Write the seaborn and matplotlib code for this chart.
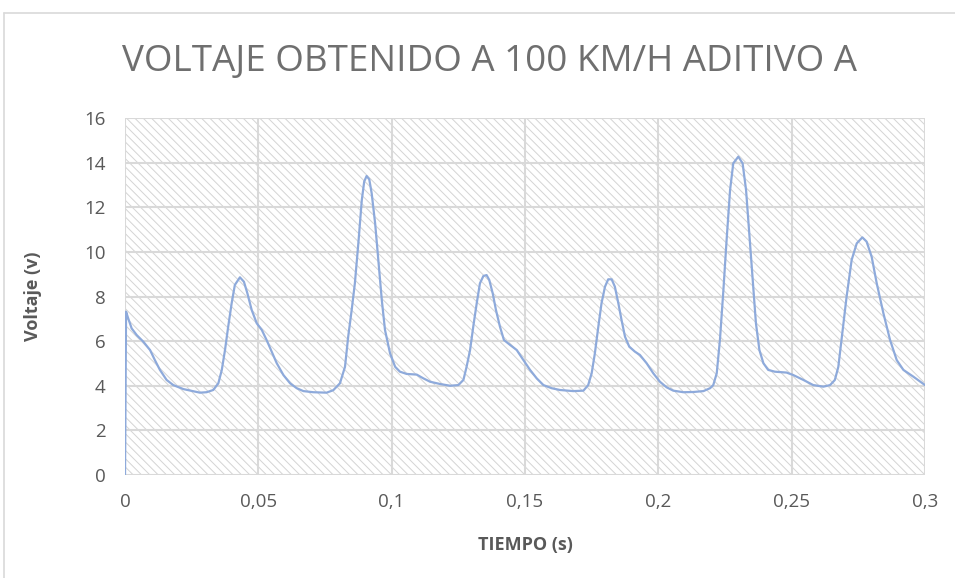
import matplotlib
matplotlib.use("Agg")
import matplotlib.pyplot as plt
import seaborn as sns
import pandas as pd
from matplotlib.patches import Rectangle
from matplotlib.ticker import FuncFormatter
from matplotlib.lines import Line2D

title = "VOLTAJE OBTENIDO A 100 KM/H ADITIVO A"
x_label = "TIEMPO (s)"
y_label = "Voltaje (v)"

tiempo = [0.0, 0.0004, 0.0012, 0.0025, 0.0044, 0.0069, 0.0094, 0.0112, 0.0131, 0.0156,
          0.0181, 0.0219, 0.0281, 0.0306, 0.0331, 0.035, 0.0363, 0.0375, 0.0387, 0.04,
          0.0412, 0.0431, 0.0446, 0.0459, 0.0475, 0.0494, 0.0513, 0.0531, 0.055, 0.0569,
          0.0594, 0.0619, 0.0644, 0.0669, 0.0706, 0.0756, 0.0781, 0.0806, 0.0825, 0.0837,
          0.085, 0.0862, 0.0875, 0.0888, 0.0897, 0.0906, 0.0916, 0.0925, 0.0938, 0.095,
          0.0963, 0.0975, 0.0994, 0.1013, 0.1031, 0.1056, 0.1094, 0.1119, 0.1144, 0.1181,
          0.1219, 0.125, 0.1269, 0.1281, 0.1294, 0.1306, 0.1319, 0.1331, 0.1344, 0.1356,
          0.1366, 0.1379, 0.1391, 0.1406, 0.1421, 0.1444, 0.1469, 0.1494, 0.1519, 0.1544,
          0.1569, 0.16, 0.1631, 0.1681, 0.1719, 0.1737, 0.175, 0.1762, 0.1775, 0.1787,
          0.18, 0.1812, 0.1825, 0.1837, 0.185, 0.1862, 0.1875, 0.1891, 0.1912, 0.1931,
          0.1956, 0.1981, 0.2006, 0.2031, 0.2056, 0.2094, 0.2131, 0.2169, 0.2194, 0.2206,
          0.2219, 0.2231, 0.2244, 0.2256, 0.2269, 0.2281, 0.23, 0.2316, 0.2329, 0.2341,
          0.2354, 0.2366, 0.2379, 0.2394, 0.2412, 0.2437, 0.2481, 0.2506, 0.2544, 0.2581,
          0.2619, 0.2644, 0.2662, 0.2675, 0.2687, 0.2706, 0.2725, 0.2744, 0.2765, 0.2781,
          0.28, 0.2819, 0.2844, 0.2869, 0.2894, 0.2919, 0.2956, 0.3]
voltaje = [0.0, 7.32, 7.02, 6.57, 6.27, 5.97, 5.60, 5.15, 4.71, 4.26,
           4.03, 3.85, 3.69, 3.71, 3.81, 4.11, 4.71, 5.60, 6.65, 7.70,
           8.52, 8.86, 8.66, 8.14, 7.40, 6.80, 6.50, 6.05, 5.53, 5.01,
           4.48, 4.11, 3.89, 3.76, 3.71, 3.69, 3.80, 4.11, 4.85, 6.20,
           7.39, 8.59, 10.38, 12.32, 13.15, 13.40, 13.25, 12.63, 11.28, 9.64,
           7.84, 6.50, 5.45, 4.85, 4.63, 4.53, 4.50, 4.33, 4.18, 4.08,
           4.00, 4.03, 4.26, 4.85, 5.60, 6.65, 7.70, 8.59, 8.92, 8.96,
           8.74, 8.14, 7.40, 6.65, 6.05, 5.83, 5.60, 5.15, 4.71, 4.33,
           4.03, 3.89, 3.81, 3.76, 3.78, 4.03, 4.56, 5.45, 6.65, 7.70,
           8.44, 8.77, 8.77, 8.44, 7.70, 6.95, 6.20, 5.75, 5.53, 5.38,
           5.01, 4.56, 4.18, 3.93, 3.78, 3.71, 3.72, 3.76, 3.89, 4.03,
           4.56, 6.05, 8.29, 10.53, 12.77, 13.97, 14.27, 13.97, 12.77, 10.83,
           8.74, 6.80, 5.60, 5.01, 4.71, 4.63, 4.59, 4.48, 4.26, 4.03,
           3.96, 4.03, 4.26, 4.85, 6.05, 7.99, 9.64, 10.38, 10.65, 10.46,
           9.78, 8.59, 7.25, 6.05, 5.15, 4.71, 4.41, 4.03]

x_ticks = [0, 0.05, 0.1, 0.15, 0.2, 0.25, 0.3]
y_ticks = [0, 2, 4, 6, 8, 10, 12, 14, 16]

df = pd.DataFrame({"tiempo": tiempo, "voltaje": voltaje})

sns.set_theme(style="white")
plt.rcParams["font.family"] = ["Open Sans", "DejaVu Sans"]
plt.rcParams["hatch.linewidth"] = 0.7
plt.rcParams["hatch.color"] = "#d4d4d4"

fig = plt.figure(figsize=(9.55, 5.78), dpi=100)
fig.patch.set_facecolor("white")
ax = fig.add_axes([125 / 955, 103 / 578, 800 / 955, 357 / 578])

# hatched plot-area background
ax.add_patch(Rectangle((0, 0), 1, 1, transform=ax.transAxes, facecolor="white",
                       edgecolor="#d4d4d4", hatch="\\\\\\\\", linewidth=0, zorder=0))

sns.lineplot(data=df, x="tiempo", y="voltaje", ax=ax, sort=False, estimator=None,
             color="#8eaadb", linewidth=1.6, zorder=3)
ax.lines[0].set_solid_joinstyle("round")

ax.set_xlim(0, 0.3)
ax.set_ylim(0, 16)
ax.set_xticks(x_ticks)
ax.set_yticks(y_ticks)
fmt = FuncFormatter(lambda v, p: ("%g" % round(v, 4)).replace(".", ","))
ax.xaxis.set_major_formatter(fmt)
ax.yaxis.set_major_formatter(fmt)
ax.grid(True, color="#d9d9d9", linewidth=1.5, zorder=1)
ax.set_axisbelow(True)
for s in ax.spines.values():
    s.set_visible(False)
ax.tick_params(axis="both", length=0, labelsize=13.5, colors="#595959")
ax.tick_params(axis="x", pad=13)
ax.tick_params(axis="y", pad=14)

ax.set_xlabel(x_label, fontsize=13, fontweight="bold", color="#595959", labelpad=18)
ax.set_ylabel(y_label, fontsize=13, fontweight="bold", color="#595959", labelpad=30)

fig.text(489 / 955, 1 - 62 / 578, title, ha="center", va="center", fontsize=26.5,
         color="#6f6f6f")

# chart border (top and left visible)
fig.add_artist(Line2D([4 / 955, 1], [1 - 13 / 578, 1 - 13 / 578], transform=fig.transFigure,
                      color="#d9d9d9", linewidth=1.2))
fig.add_artist(Line2D([4 / 955, 4 / 955], [0, 1 - 13 / 578], transform=fig.transFigure,
                      color="#d9d9d9", linewidth=1.2))

fig.savefig("out.png", dpi=100, facecolor="white")
